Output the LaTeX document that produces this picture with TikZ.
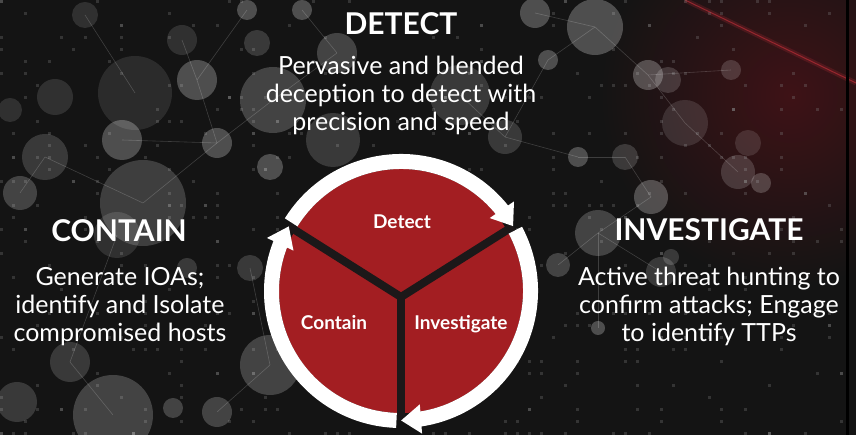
\documentclass[tikz,border=0pt]{standalone}
\usepackage{fontspec}
\setmainfont{Lato}
\usepackage{tikz}
\usetikzlibrary{arrows.meta,bending,calc}
\definecolor{bgdark}{HTML}{141414}
\definecolor{cyclered}{HTML}{A31E22}
\definecolor{spokecol}{HTML}{1C1819}
\definecolor{glowred}{HTML}{3E1216}
\definecolor{streakred}{HTML}{C8303A}

\tikzset{
    headline/.style={font=\fontsize{30}{34}\selectfont\bfseries, text=white},
    bodytext/.style={font=\fontsize{25}{28}\selectfont, text=white, align=center},
    sectorlabel/.style={font=\fontsize{19}{22}\selectfont\bfseries, text=white},
    ringarc/.style={white, line width=15pt, -{Triangle[length=20pt,width=28pt,flex]}},
    spoke/.style={spokecol, line width=8pt},
    bokeh/.style={fill=white, fill opacity=#1},
    netline/.style={white, opacity=0.18, line width=0.6pt},
}

\begin{document}
\begin{tikzpicture}[x=1pt, y=1pt]

% ---- Background ----
\useasboundingbox (0,0) rectangle (856,435);
\fill[bgdark] (0,0) rectangle (856,435);

% Red haze, upper right
\shade[inner color=glowred, outer color=bgdark] (790,340) circle (190);
\draw[streakred, opacity=0.2, line width=5pt] (685,435) -- (856,352);
\draw[streakred, opacity=0.6, line width=1pt] (685,435) -- (856,352);
\fill[black] (846,0) rectangle (849,435);

% Dot matrix
\pgfmathsetseed{11}
\foreach \i in {1,...,520} {
    \pgfmathsetmacro\dx{12*int(rnd*71)}
    \pgfmathsetmacro\dy{12*int(rnd*37)}
    \fill[gray, opacity=0.3] (\dx,\dy) rectangle ++(2.5,2.5);
}

% Network lines
\foreach \xa/\ya/\xb/\yb in {197/355/217/292, 217/292/273/335, 122/295/217/292,
    197/355/247/425, 273/335/337/382, 337/382/302/425, 45/278/143/232,
    143/232/217/292, 505/298/548/375, 548/375/595/408, 595/408/648/360,
    648/360/731/365, 648/360/685/312, 685/312/738/263, 578/278/625/278,
    625/278/651/238, 505/298/578/278, 598/202/661/163, 598/202/598/107,
    270/70/217/23, 70/73/113/20, 250/167/270/70, 117/200/70/73,
    558/170/598/202, 651/238/598/202, 20/242/45/278, 85/420/135/342,
    182/395/197/355, 460/340/505/298, 535/422/595/408} {
    \draw[netline] (\xa,\ya) -- (\xb,\yb);
}

% Bokeh circles
\foreach \cx/\cy/\cr/\op in {135/342/37/0.1, 197/355/20/0.25, 122/295/20/0.25,
    273/335/33/0.2, 217/292/15/0.25, 55/338/18/0.12, 10/325/12/0.12,
    45/278/23/0.16, 143/232/43/0.18, 85/420/13/0.12, 247/425/10/0.25,
    302/425/10/0.25, 257/392/13/0.16, 337/382/20/0.2, 182/395/15/0.12,
    270/268/13/0.25, 333/295/27/0.16, 20/242/17/0.2, 595/408/28/0.25,
    535/422/15/0.25, 648/360/15/0.25, 668/355/13/0.16, 731/365/10/0.16,
    685/312/23/0.12, 738/263/17/0.16, 651/238/17/0.25, 748/292/13/0.12,
    625/278/13/0.16, 578/278/10/0.25, 505/298/17/0.16, 548/375/10/0.25,
    761/252/10/0.2, 113/20/40/0.2, 70/73/20/0.16, 217/23/15/0.2,
    17/33/20/0.16, 270/70/30/0.2, 250/167/13/0.16, 173/27/10/0.2,
    117/200/23/0.12, 187/167/10/0.16, 598/202/23/0.2, 558/170/12/0.2,
    661/163/15/0.16, 598/107/7/0.25, 671/178/8/0.16, 460/340/30/0.16} {
    \fill[bokeh=\op] (\cx,\cy) circle (\cr);
}

% ---- Cycle ----
\coordinate (ctr) at (401,144);
\coordinate (hub) at (401,138);
\coordinate (rDI) at ($(ctr)+(30:129.5)$);
\coordinate (rIC) at ($(ctr)+(270:129.5)$);
\coordinate (rCD) at ($(ctr)+(150:129.5)$);
\coordinate (sD) at ($(ctr)+(148:129.5)$);
\coordinate (sI) at ($(ctr)+(28:129.5)$);
\coordinate (sC) at ($(ctr)+(268:129.5)$);

\fill[cyclered] (ctr) circle (122);

% Spokes
\draw[spoke] (hub) -- (rDI);
\draw[spoke] (hub) -- (rIC);
\draw[spoke] (hub) -- (rCD);

% Ring arrows (clockwise)
\draw[ringarc] (sD) arc[start angle=148, end angle=30, radius=129.5];
\draw[ringarc] (sI) arc[start angle=28, end angle=-90, radius=129.5];
\draw[ringarc] (sC) arc[start angle=268, end angle=150, radius=129.5];

% Sector labels
\node[sectorlabel, anchor=base] (lbldetect) at (402,206) {Detect};
\node[sectorlabel, anchor=base] (lblcontain) at (334,105) {Contain};
\node[sectorlabel, anchor=base] (lblinvest) at (461,105) {Investigate};

% ---- Captions ----
\node[headline, anchor=base] (detecthead) at (401,400) {DETECT};
\node[bodytext, anchor=base] (detecttext) at (401,304) {Pervasive and blended\\deception to detect with\\precision and speed};

\node[headline, anchor=base] (containhead) at (119,193) {CONTAIN};
\node[bodytext, anchor=base] (containtext) at (120,93) {Generate IOAs;\\identify and Isolate\\compromised hosts};

\node[headline, anchor=base] (investhead) at (709,194) {INVESTIGATE};
\node[bodytext, anchor=base] (investtext) at (709,93) {Active threat hunting to\\confirm attacks; Engage\\to identify TTPs};

\end{tikzpicture}
\end{document}
